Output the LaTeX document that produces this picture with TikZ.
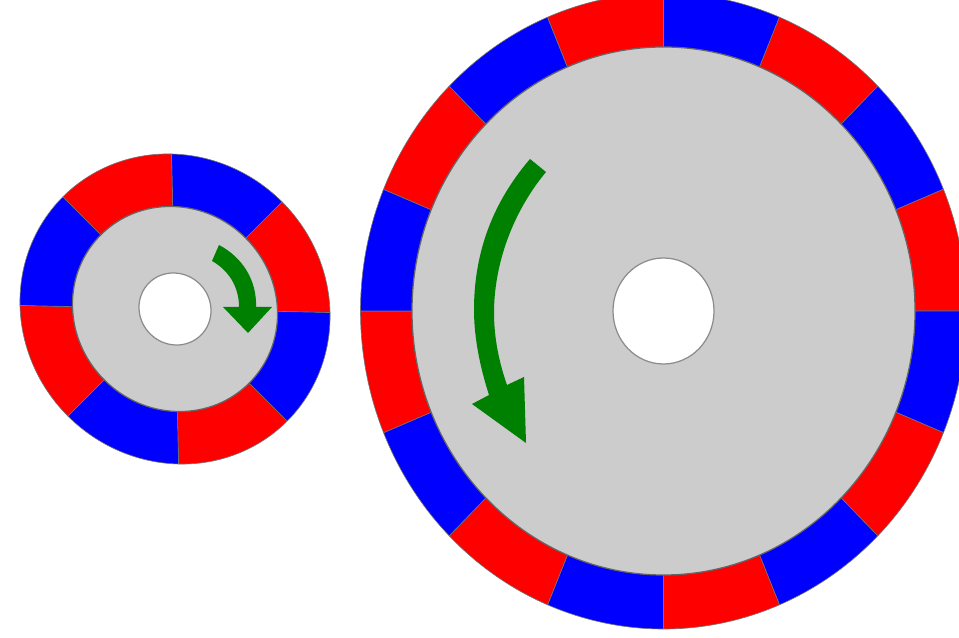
\documentclass[tikz,border=0pt]{standalone}
\definecolor{diskgray}{gray}{0.8}
\definecolor{arrowgreen}{rgb}{0,0.5,0}
\tikzset{
	pole style/.style={draw=black!55, line width=0.35},
	disk style/.style={fill=diskgray, draw=black!60, line width=0.7},
	hole style/.style={fill=white, draw=black!45, line width=0.7},
	turn style/.style={fill=arrowgreen, draw=none},
}
% x radius, y radius, start angle, end angle, inner x radius, inner y radius
\newcommand{\polepiece}[7]{
	\filldraw[pole style, fill=#7] (#3:#1 and #2) arc[start angle=#3, end angle=#4, x radius=#1, y radius=#2]
		-- (#4:#5 and #6) arc[start angle=#4, end angle=#3, x radius=#5, y radius=#6] -- cycle;
}
\begin{document}
\begin{tikzpicture}[line cap=round, line join=round, x=0.02cm, y=0.02cm]
	\useasboundingbox (0,0) rectangle (959,638);
	\clip (0,0) rectangle (959,638);
	% small wheel
	\begin{scope}[cm={1,-0.023,-0.023,1,(175,329)}]
		\foreach \a/\col in {90/blue,45/red,0/blue,-45/red,-90/blue,-135/red,-180/blue,-225/red}{
			\pgfmathsetmacro{\b}{\a-45}
			\polepiece{155}{155}{\a}{\b}{100}{100}{\col}
		}
		\draw[disk style] (0,0) circle[radius=102.5];
		\draw[hole style] (0,0) circle[radius=36];
	\end{scope}
	% large wheel
	\begin{scope}[shift={(663.5,327)}]
		\foreach \a/\col in {90/blue,67.5/red,45/blue,22.5/red,0/blue,-22.5/red,-45/blue,-67.5/red,
			-90/blue,-112.5/red,-135/blue,-157.5/red,-180/blue,-202.5/red,-225/blue,-247.5/red}{
			\pgfmathsetmacro{\b}{\a-22.5}
			\polepiece{303}{318}{\a}{\b}{248}{261}{\col}
		}
		\draw[disk style] (0,0) ellipse[x radius=251.5, y radius=264];
		\draw[hole style] (0,0) ellipse[x radius=50.5, y radius=53];
	\end{scope}
	% rotation arrows
	\fill[turn style] (219,393) .. controls (242,381) and (257,358) .. (256,331)
		-- (272,331) -- (248,305) -- (223,331) -- (239,331)
		.. controls (239,352) and (228,368) .. (212,377) -- cycle;
	\fill[turn style] (530,479) .. controls (488,430) and (474,378) .. (474,328)
		.. controls (474,298) and (481,268) .. (489,243)
		-- (472,234) -- (526,195) -- (524,261) -- (507,253)
		.. controls (500,273) and (494,298) .. (494,325)
		.. controls (494,373) and (512,425) .. (546,466) -- cycle;
\end{tikzpicture}
\end{document}
